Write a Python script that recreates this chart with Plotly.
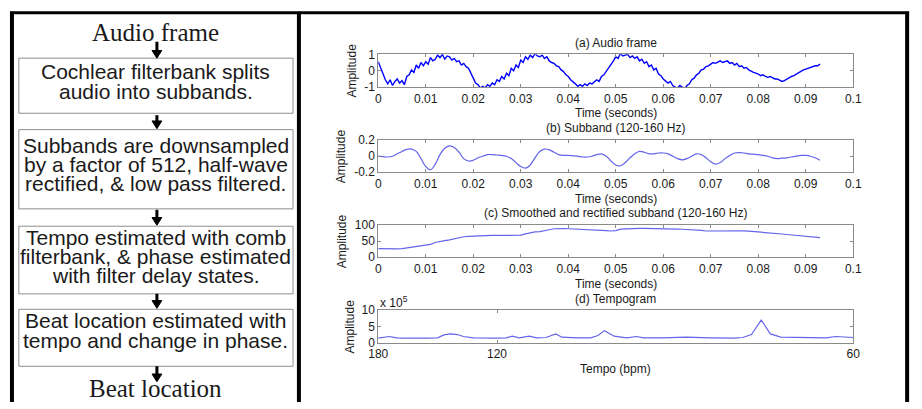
import plotly.graph_objects as go

W, H = 922, 409

# ---------------- data ----------------
audio_step = 0.0005  # seconds between samples
audio_amp = [
    0.55, 0.15, -0.25, -0.55, -0.8, -0.55, -0.9, -0.65, -0.5, -0.75,
    -0.6, -0.85, -0.35, -0.25, 0.05, -0.1, 0.35, 0.15, 0.5, 0.3,
    0.55, 0.4, 0.8, 0.6, 0.7, 0.95, 0.8, 1.0, 0.7, 0.9,
    0.85, 0.65, 0.75, 0.55, 0.6, 0.35, 0.45, 0.25, 0.15, -0.2,
    -0.45, -0.75, -0.85, -1.05, -0.95, -1.05, -0.85, -0.95, -0.75, -0.85,
    -0.55, -0.65, -0.35, -0.5, -0.15, -0.3, 0.15, 0.0, 0.35, 0.2,
    0.65, 0.5, 0.85, 0.7, 0.95, 0.8, 1.05, 0.9, 0.85, 0.95,
    0.75, 0.85, 0.6, 0.5, 0.45, 0.3, 0.25, 0.05, -0.05, -0.25,
    -0.35, -0.55, -0.65, -0.8, -0.95, -0.85, -0.95, -0.8, -0.9, -0.75,
    -0.8, -0.7, -0.55, -0.65, -0.35, -0.25, -0.05, 0.15, 0.4, 0.6,
    0.85, 0.75, 1.05, 0.9, 0.95, 1.0, 0.8, 0.9, 0.75, 0.85,
    0.6, 0.7, 0.45, 0.55, 0.25, 0.35, 0.05, 0.15, -0.2, -0.3,
    -0.5, -0.6, -0.75, -0.65, -0.9, -1.0, -1.05, -0.9, -1.0, -1.1,
    -0.9, -0.8, -0.55, -0.45, -0.25, -0.15, 0.05, 0.1, 0.25, 0.3,
    0.4, 0.5, 0.45, 0.55, 0.6, 0.5, 0.55, 0.6, 0.45, 0.5,
    0.35, 0.45, 0.25, 0.3, 0.15, 0.2, 0.05, -0.05, -0.1, -0.15,
    -0.2, -0.3, -0.25, -0.35, -0.4, -0.35, -0.45, -0.5, -0.5, -0.6,
    -0.65, -0.6, -0.5, -0.45, -0.35, -0.3, -0.2, -0.15, -0.05, 0.05,
    0.1, 0.15, 0.2, 0.25, 0.3, 0.3, 0.4,
]

band_step = 0.001
subband_amp = [
    0.0, -0.005, -0.01, 0.0, 0.03, 0.06, 0.085, 0.09, 0.06, -0.03,
    -0.13, -0.17, -0.1, 0.02, 0.1, 0.13, 0.11, 0.05, -0.03, -0.06,
    -0.05, -0.02, 0.0, 0.02, 0.02, 0.015, 0.01, 0.0, -0.03, -0.08,
    -0.13, -0.15, -0.11, -0.02, 0.06, 0.09, 0.08, 0.05, 0.02, 0.01,
    0.01, 0.005, 0.0, -0.01, -0.01, 0.0, 0.02, 0.03, 0.0, -0.06,
    -0.11, -0.12, -0.08, -0.02, 0.03, 0.06, 0.05, 0.03, 0.03, 0.04,
    0.04, 0.03, 0.0, -0.03, -0.045, -0.03, 0.0, 0.03, 0.02, -0.02,
    -0.07, -0.1, -0.08, -0.03, 0.01, 0.04, 0.045, 0.04, 0.03, 0.025,
    0.02, 0.01, 0.0, -0.02, -0.03, -0.025, -0.02, -0.01, 0.0, 0.01,
    0.01, 0.0, -0.02, -0.05,
]

smooth_amp = [
    27, 26.5, 26, 26, 26, 27, 29, 32, 34, 35,
    37, 40, 46, 50, 52, 54, 58, 62, 64, 65,
    66, 66.5, 67, 67.5, 68, 68, 68, 68, 68, 68,
    69, 73, 77, 79, 80, 82, 86, 89, 90, 89.5,
    89, 88.5, 88, 87, 86, 85, 84, 83.5, 83, 82,
    83, 88, 89, 89.5, 90, 90, 90, 90, 90, 89.5,
    89.5, 89, 88.5, 88, 87.5, 87, 86, 85, 84, 82,
    82, 84, 84, 83.5, 83, 83, 83, 82.5, 81.5, 80.5,
    79.5, 78, 76.5, 75, 74, 72.5, 71, 69.5, 68, 67,
    65.5, 64, 62.5, 61,
]

tempo_bpm = [180, 176, 172, 167, 163, 150, 144, 141, 138, 135,
             132.5, 128.5, 124, 120, 117, 115, 113, 110, 108, 105.5,
             103, 101.5, 98, 95, 93.5, 92.2, 90.3, 88, 86.2, 85,
             82, 78.4, 75, 72, 71, 70, 68.9, 67.9, 66.8, 64,
             62.4, 61.5, 60.5, 60]
tempo_amp = [1.5, 1.8, 2.0, 1.6, 1.5, 1.5, 1.6, 2.5, 2.8, 2.6,
             2.0, 1.6, 1.5, 1.5, 1.6, 2.1, 1.6, 2.1, 1.6, 1.7,
             2.8, 1.8, 1.6, 1.6, 2.3, 3.8, 2.1, 1.6, 2.0, 1.6,
             1.6, 1.8, 1.6, 1.5, 1.7, 2.6, 7.0, 2.8, 1.8, 1.7,
             1.6, 2.0, 1.8, 1.7]  # x 10^5

time_ticks = [0, 0.01, 0.02, 0.03, 0.04, 0.05, 0.06, 0.07, 0.08, 0.09, 0.1]
time_tick_labels = ["0", "0.01", "0.02", "0.03", "0.04", "0.05", "0.06",
                    "0.07", "0.08", "0.09", "0.1"]
tempo_tick_bpm = [180, 120, 60]
tempo_tick_labels = ["180", "120", "60"]

flow_steps = [
    ["Cochlear filterbank splits", "audio into subbands."],
    ["Subbands are downsampled", "by a factor of 512, half-wave",
     "rectified, & low pass filtered."],
    ["Tempo estimated with comb", "filterbank, & phase estimated",
     "with filter delay states."],
    ["Beat location estimated with", "tempo and change in phase."],
]
flow_start = "Audio frame"
flow_end = "Beat location"

panel_titles = ["(a) Audio frame", "(b) Subband (120-160 Hz)",
                "(c) Smoothed and rectified subband (120-160 Hz)",
                "(d) Tempogram"]

# ---------------- helpers ----------------
def fx(px):
    return px / W


def fy(py):
    return 1 - py / H


SANS = "Liberation Sans, Arial, sans-serif"
SERIF = "Liberation Serif, Times New Roman, serif"
TXT = "#1a1a1a"
AX = "#8a8a8a"

t_audio = [i * audio_step for i in range(len(audio_amp))]
t_band = [i * band_step for i in range(len(subband_amp))]
tempo_lag = [60.0 / b for b in tempo_bpm]

fig = go.Figure()
fig.add_trace(go.Scatter(x=t_audio, y=audio_amp, mode="lines",
                         line=dict(color="#0000ff", width=1.4),
                         xaxis="x", yaxis="y"))
fig.add_trace(go.Scatter(x=t_band, y=subband_amp, mode="lines",
                         line=dict(color="rgb(100,100,235)", width=1.2, shape="spline"),
                         xaxis="x2", yaxis="y2"))
fig.add_trace(go.Scatter(x=t_band, y=smooth_amp, mode="lines",
                         line=dict(color="rgb(100,100,235)", width=1.2),
                         xaxis="x3", yaxis="y3"))
fig.add_trace(go.Scatter(x=tempo_lag, y=tempo_amp, mode="lines",
                         line=dict(color="rgb(100,100,235)", width=1.2),
                         xaxis="x4", yaxis="y4"))

ax_common = dict(showline=True, linecolor=AX, linewidth=1, mirror="ticks",
                 ticks="inside", ticklen=3, tickcolor=AX, showgrid=False,
                 zeroline=False, fixedrange=True,
                 tickfont=dict(family=SANS, size=12, color=TXT))

x_left, x_right = 376, 861
frames = [(49, 83), (138, 171), (226, 259), (314, 348)]
y_ranges = [[-1, 1], [-0.2, 0.2], [0, 100], [0, 10]]
y_ticks = [[-1, 0, 1], [-0.2, 0, 0.2], [0, 50, 100], [0, 5, 10]]
y_tick_labels = [["-1", "0", "1"], ["-0.2", "0", "0.2"], ["0", "50", "100"],
                 ["0", "5", "10"]]

layout = dict(width=W, height=H, margin=dict(l=0, r=0, t=0, b=0),
              paper_bgcolor="white", plot_bgcolor="white", showlegend=False)

for i, (top, bot) in enumerate(frames):
    n = "" if i == 0 else str(i + 1)
    xa = dict(ax_common, domain=[fx(x_left), fx(x_right)], anchor="y" + n)
    if i < 3:
        xa.update(range=[0, 0.1], tickvals=time_ticks, ticktext=time_tick_labels)
    else:
        xa.update(range=[60.0 / 180, 60.0 / 60],
                  tickvals=[60.0 / b for b in tempo_tick_bpm],
                  ticktext=tempo_tick_labels)
    ya = dict(ax_common, domain=[fy(bot), fy(top)], anchor="x" + n,
              range=y_ranges[i], tickvals=y_ticks[i], ticktext=y_tick_labels[i])
    layout["xaxis" + n] = xa
    layout["yaxis" + n] = ya

fig.update_layout(**layout)

ann = []
cx = (x_left + x_right) / 2
title_y = [37.5, 125, 213, 302]
xlabel_y = [110, 198.5, 287, 375]
ylabel_x = [349, 338, 339, 347]
for i in range(4):
    ann.append(dict(text=panel_titles[i], x=fx(cx), y=fy(title_y[i]),
                    xref="paper", yref="paper", xanchor="center", yanchor="middle",
                    showarrow=False, font=dict(family=SANS, size=12, color=TXT)))
    ann.append(dict(text="Time (seconds)" if i < 3 else "Tempo (bpm)",
                    x=fx(cx), y=fy(xlabel_y[i]), xref="paper", yref="paper",
                    xanchor="center", yanchor="middle", showarrow=False,
                    font=dict(family=SANS, size=12, color=TXT)))
    mid = (frames[i][0] + frames[i][1]) / 2
    ann.append(dict(text="Amplitude", x=fx(ylabel_x[i]), y=fy(mid),
                    xref="paper", yref="paper", xanchor="center", yanchor="middle",
                    textangle=-90, showarrow=False,
                    font=dict(family=SANS, size=12, color=TXT)))
ann.append(dict(text="x 10<sup>5</sup>", x=fx(376), y=fy(305), xref="paper",
                yref="paper", xanchor="left", yanchor="middle", showarrow=False,
                font=dict(family=SANS, size=12, color=TXT)))

# flowchart
fc_x = 149
ann.append(dict(text=flow_start, x=fx(fc_x), y=fy(26), xref="paper", yref="paper",
                xanchor="center", yanchor="middle", showarrow=False,
                font=dict(family=SERIF, size=25, color=TXT)))
ann.append(dict(text=flow_end, x=fx(fc_x), y=fy(395), xref="paper", yref="paper",
                xanchor="center", yanchor="middle", showarrow=False,
                font=dict(family=SERIF, size=25, color=TXT)))
line_y = [[67, 87.5], [143, 163, 183], [238.5, 258.5, 278.5], [325, 345]]
for step, ys in zip(flow_steps, line_y):
    for txt, yy in zip(step, ys):
        ann.append(dict(text=txt, x=fx(fc_x), y=fy(yy), xref="paper", yref="paper",
                        xanchor="center", yanchor="middle", showarrow=False,
                        font=dict(family=SANS, size=21, color=TXT)))

shapes = []
boxes = [(53, 110), (127, 209), (227, 297), (313, 372)]
for top, bot in boxes:
    shapes.append(dict(type="rect", xref="paper", yref="paper",
                       x0=fx(9), x1=fx(289), y0=fy(bot), y1=fy(top),
                       line=dict(color="#8f8f8f", width=1), fillcolor="rgba(0,0,0,0)"))
arrows = [(36, 53), (112, 126), (210, 226), (297, 312), (372, 388)]
for a0, a1 in arrows:
    shapes.append(dict(type="line", xref="paper", yref="paper",
                       x0=fx(fc_x + 1), x1=fx(fc_x + 1), y0=fy(a0), y1=fy(a1 - 6),
                       line=dict(color="black", width=3)))
    shapes.append(dict(type="path", xref="paper", yref="paper",
                       path="M {} {} L {} {} L {} {} Z".format(
                           fx(fc_x - 4), fy(a1 - 8), fx(fc_x + 6), fy(a1 - 8),
                           fx(fc_x + 1), fy(a1)),
                       line=dict(color="black", width=1), fillcolor="black"))
# outer borders
border = "black"
shapes.append(dict(type="line", xref="paper", yref="paper", x0=0, x1=fx(918),
                   y0=fy(6), y1=fy(6), line=dict(color=border, width=3)))
shapes.append(dict(type="line", xref="paper", yref="paper", x0=fx(2), x1=fx(2),
                   y0=fy(5), y1=0, line=dict(color=border, width=4)))
shapes.append(dict(type="line", xref="paper", yref="paper", x0=fx(295), x1=fx(295),
                   y0=fy(5), y1=0, line=dict(color=border, width=4)))
shapes.append(dict(type="line", xref="paper", yref="paper", x0=fx(916), x1=fx(916),
                   y0=fy(5), y1=0, line=dict(color=border, width=4)))

fig.update_layout(annotations=ann, shapes=shapes)
fig.write_html(
    "out.html",
    config={"displayModeBar": False, "responsive": False},
    post_script=(
        "document.documentElement.style.margin='0';"
        "document.documentElement.style.overflow='hidden';"
        "document.body.style.margin='0';document.body.style.padding='0';"
        "document.body.style.overflow='hidden';"
        "var gd=document.getElementById('{plot_id}');"
        "gd.style.position='fixed';gd.style.left='0px';gd.style.top='0px';"
    ),
)
